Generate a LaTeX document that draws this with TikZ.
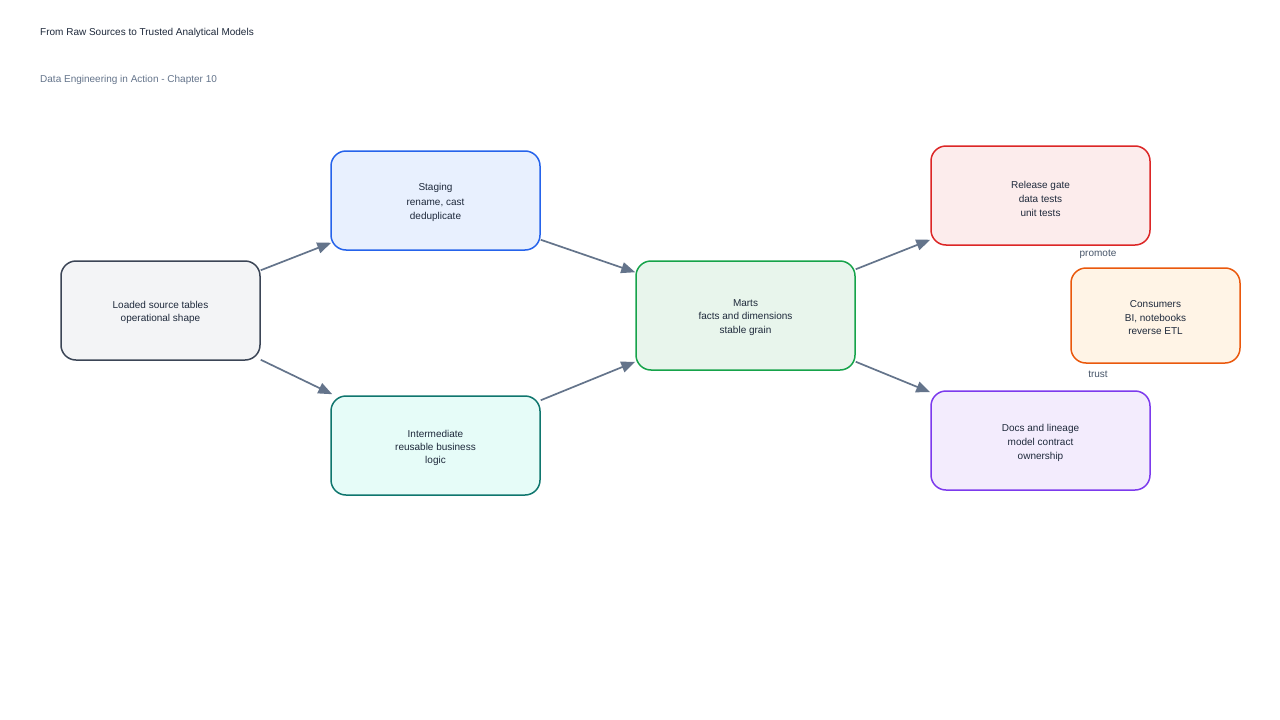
\documentclass[tikz,border=0pt]{standalone}
\usepackage{fontspec}
\setmainfont{Liberation Sans}
\usetikzlibrary{arrows.meta,calc}
\definecolor{txt}{HTML}{1E293B}
\definecolor{sub}{HTML}{64748B}
\definecolor{lbl}{HTML}{475569}
\definecolor{edge}{HTML}{64748B}
\definecolor{srcF}{HTML}{F3F4F6}\definecolor{srcD}{HTML}{3B4556}
\definecolor{stgF}{HTML}{E8F0FE}\definecolor{stgD}{HTML}{2563EB}
\definecolor{intF}{HTML}{E6FCF8}\definecolor{intD}{HTML}{0F766E}
\definecolor{martF}{HTML}{E8F5EC}\definecolor{martD}{HTML}{16A34A}
\definecolor{relF}{HTML}{FCECEC}\definecolor{relD}{HTML}{DC2626}
\definecolor{conF}{HTML}{FFF4E6}\definecolor{conD}{HTML}{EA580C}
\definecolor{docF}{HTML}{F3ECFD}\definecolor{docD}{HTML}{7C3AED}
\tikzset{
  box/.style={rectangle, rounded corners=15pt, line width=1.5pt, inner sep=0pt},
  btxt/.style={text=txt, align=center, inner sep=0pt, font=\fontsize{10}{#1}\selectfont},
  btxt/.default=14,
  conn/.style={draw=edge, line width=1.7pt, -{Triangle[length=14pt,width=11pt]}},
  elabel/.style={font=\fontsize{10}{12}\selectfont, text=lbl},
}
\begin{document}
\begin{tikzpicture}[x=1pt,y=-1pt]
\useasboundingbox[fill=white] (0,0) rectangle (1280,720);
\node[anchor=west, inner sep=0pt, font=\fontsize{10}{12}\selectfont, text=txt] (title) at (40,32.5) {From Raw Sources to Trusted Analytical Models};
\node[anchor=west, inner sep=0pt, font=\fontsize{10}{12}\selectfont, text=sub] (subtitle) at (40,79.5) {Data Engineering in Action - Chapter 10};

\node[box, fill=srcF, draw=srcD, minimum width=199pt, minimum height=99pt] (src) at (160.5,310.5) {};
\node[btxt=13] (srcT) at (160.5,312) {Loaded source tables\\operational shape};
\node[box, fill=stgF, draw=stgD, minimum width=209pt, minimum height=99pt] (stg) at (435.5,200.5) {};
\node[btxt=14.5] (stgT) at (435.5,202.5) {Staging\\rename, cast\\deduplicate};
\node[box, fill=intF, draw=intD, minimum width=209pt, minimum height=99pt] (int) at (435.5,445.5) {};
\node[btxt=13] (intT) at (435.5,447.5) {Intermediate\\reusable business\\logic};
\node[box, fill=martF, draw=martD, minimum width=219pt, minimum height=109pt] (mart) at (745.5,315.5) {};
\node[btxt=13.5] (martT) at (745.5,317.5) {Marts\\facts and dimensions\\stable grain};
\node[box, fill=relF, draw=relD, minimum width=219pt, minimum height=99pt] (rel) at (1040.5,195.5) {};
\node[btxt=14] (relT) at (1040.5,198.5) {Release gate\\data tests\\unit tests};
\node[box, fill=conF, draw=conD, minimum width=169pt, minimum height=95pt] (con) at (1155.5,315.5) {};
\node[btxt=13.5] (conT) at (1155.5,318) {Consumers\\BI, notebooks\\reverse ETL};
\node[box, fill=docF, draw=docD, minimum width=219pt, minimum height=99pt] (doc) at (1040.5,440.5) {};
\node[btxt=14] (docT) at (1040.5,443) {Docs and lineage\\model contract\\ownership};

\draw[conn] ([yshift=-10pt]src.north east) -- ([xshift=1pt,yshift=8pt]stg.south west);
\draw[conn] ([yshift=1pt]src.south east) -- ([xshift=2pt,yshift=1pt]int.north west);
\draw[conn] ([yshift=11pt]stg.south east) -- ([yshift=-12pt]mart.north west);
\draw[conn] ([yshift=-5pt]int.north east) -- ([yshift=9pt]mart.south west);
\draw[conn] ([yshift=-9pt]mart.north east) -- ([yshift=6pt]rel.south west);
\draw[conn] ([yshift=9pt]mart.south east) -- ([yshift=-2pt]doc.north west);

\node[elabel] (promote) at (1098,254.5) {promote};
\node[elabel] (trust) at (1098,374.5) {trust};
\end{tikzpicture}
\end{document}
